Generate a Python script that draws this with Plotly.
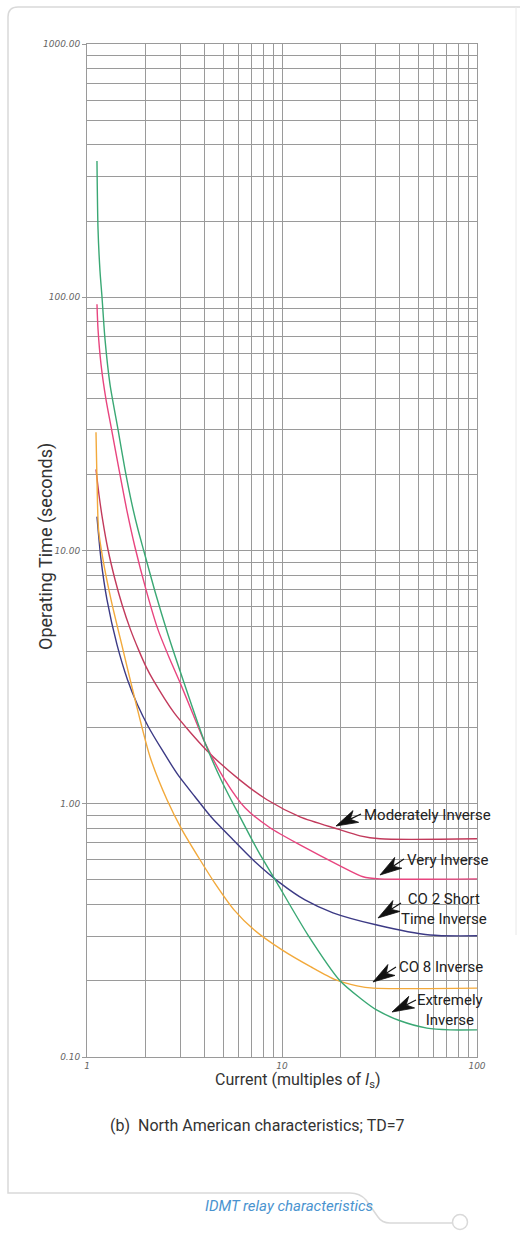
import plotly.graph_objects as go
import math

# ---------------- data ----------------
ei_x = [1.125, 1.139, 1.166, 1.194, 1.237, 1.312, 1.442, 1.566, 1.701, 1.826, 1.960, 2.232, 2.602, 3.107,
        4.028, 4.924, 6.090, 7.533, 9.428, 13.59, 19.84, 25.12, 30.70, 40.3, 55.4, 72.7, 100]
ei_y = [345, 186, 126.7, 100, 68.2, 45.3, 30.1, 20.9, 15.2, 12.1, 9.91, 6.89, 4.66, 3.09,
        1.74, 1.222, 0.888, 0.652, 0.487, 0.303, 0.200, 0.171, 0.153, 0.139, 0.130, 0.128, 0.128]

vi_x = [1.125, 1.139, 1.180, 1.251, 1.343, 1.459, 1.604, 1.763, 2.007, 2.312, 2.665, 2.999, 3.455, 4.028,
        5.102, 6.462, 8.679, 12.37, 19.84, 26.03, 31.8, 100]
vi_y = [93.8, 74.7, 54.3, 39.5, 29.5, 20.9, 14.3, 10.3, 7.01, 4.87, 3.71, 3.01, 2.31, 1.74,
        1.24, 0.964, 0.804, 0.688, 0.569, 0.515, 0.505, 0.505]

mi_x = [1.112, 1.152, 1.201, 1.281, 1.392, 1.512, 1.671, 1.837, 2.007, 2.180, 2.794, 4.125, 6.090, 8.377,
        12.37, 19.15, 25.12, 31.8, 100]
mi_y = [20.9, 16.6, 13.3, 10.09, 7.68, 6.12, 4.87, 4.06, 3.48, 3.09, 2.29, 1.62, 1.24, 1.037,
        0.888, 0.796, 0.747, 0.727, 0.727]

co2_x = [1.125, 1.180, 1.266, 1.425, 1.613, 1.815, 2.067, 2.424, 2.929, 3.579, 4.323, 5.608, 7.270, 9.766,
         13.12, 18.26, 30.70, 57.41, 100]
co2_y = [13.6, 9.21, 6.40, 4.25, 3.09, 2.46, 2.01, 1.634, 1.30, 1.066, 0.888, 0.721, 0.590, 0.487,
         0.417, 0.371, 0.332, 0.303, 0.301]

co8_x = [1.112, 1.125, 1.146, 1.208, 1.328, 1.529, 1.763, 2.104, 2.572, 3.071, 3.797, 4.587, 5.674, 7.186,
         10.0, 14.08, 18.92, 24.24, 29.29, 100]
co8_y = [29.3, 19.1, 12.1, 9.21, 6.40, 4.06, 2.58, 1.534, 1.037, 0.789, 0.601, 0.478, 0.381, 0.318,
         0.265, 0.227, 0.2015, 0.191, 0.187, 0.187]

series_names = ["Moderately Inverse", "Very Inverse", "CO 2 Short Time Inverse", "CO 8 Inverse", "Extremely Inverse"]
series_x = [mi_x, vi_x, co2_x, co8_x, ei_x]
series_y = [mi_y, vi_y, co2_y, co8_y, ei_y]
series_colors = ["#c23a5c", "#e8457f", "#3c3a85", "#f2a93b", "#3aa874"]

x_ticks = [1, 10, 100]
x_ticktext = ["1", "10", "100"]
y_ticks = [0.1, 1, 10, 100, 1000]
y_ticktext = ["0.10", "1.00", "10.00", "100.00", "1000.00"]

# ---------------- layout geometry ----------------
W, H = 520, 1236
L, R, T, B = 87, 43, 44, 179
PW = W - L - R
PH = H - T - B

def pxx(xp):
    return (xp - L) / PW

def pyy(yp):
    return (H - B - yp) / PH

FONT = "Roboto, 'Liberation Sans', sans-serif"
GRID = "#9a9a9a"

fig = go.Figure()
for name, xs, ys, col in zip(series_names, series_x, series_y, series_colors):
    fig.add_trace(go.Scatter(x=xs, y=ys, mode="lines", name=name,
                             line=dict(color=col, width=1.4, shape="spline", smoothing=0.7),
                             hoverinfo="skip"))

minor_x = [m * d for d in (1, 10) for m in range(2, 10)]
minor_y = [m * d for d in (0.1, 1, 10, 100) for m in range(2, 10)]

fig.update_layout(
    width=W, height=H,
    margin=dict(l=L, r=R, t=T, b=B, pad=0),
    paper_bgcolor="white", plot_bgcolor="white",
    showlegend=False,
    xaxis=dict(type="log", range=[0, 2], tickvals=x_ticks, ticktext=x_ticktext,
               showgrid=True, gridcolor=GRID, gridwidth=1,
               minor=dict(tickvals=minor_x, showgrid=True, gridcolor=GRID, gridwidth=1, ticks=""),
               showline=True, linecolor=GRID, linewidth=1, mirror=True, zeroline=False,
               ticks="", tickfont=dict(family="DejaVu Sans", size=9, color="#666", style="italic")),
    yaxis=dict(type="log", range=[-1, 3], tickvals=y_ticks, ticktext=y_ticktext,
               showgrid=True, gridcolor=GRID, gridwidth=1,
               minor=dict(tickvals=minor_y, showgrid=True, gridcolor=GRID, gridwidth=1, ticks=""),
               showline=True, linecolor=GRID, linewidth=1, mirror=True, zeroline=False,
               ticks="outside", ticklen=4, tickcolor=GRID,
               tickfont=dict(family="DejaVu Sans", size=9, color="#666", style="italic")),
)

ann = []
ann.append(dict(text="Operating Time (seconds)", xref="paper", yref="paper", x=pxx(33), y=pyy(547),
                textangle=-90, showarrow=False, font=dict(family=FONT, size=18, color="#333")))
ann.append(dict(text="Current (multiples of <i>I</i><sub>s</sub>)", xref="paper", yref="paper",
                x=pxx(298), y=pyy(1093), showarrow=False, font=dict(family=FONT, size=16, color="#333")))
ann.append(dict(text="(b)  North American characteristics; TD=7", xref="paper", yref="paper",
                x=pxx(257), y=pyy(1137), showarrow=False, font=dict(family=FONT, size=16, color="#333")))
ann.append(dict(text="IDMT relay characteristics", xref="paper", yref="paper",
                x=pxx(203), y=pyy(1217), showarrow=False,
                font=dict(family=FONT, size=15, color="#4a93cf", style="italic")))

labels = [
    ("Moderately Inverse", 362, 815, "left"),
    ("Very Inverse", 405, 860, "left"),
    ("CO 2 Short<br>Time Inverse", 444, 909, "center"),
    ("CO 8 Inverse", 397, 967, "left"),
    ("Extremely<br>Inverse", 450, 1010, "center"),
]
for txt, xp, yp, anc in labels:
    ann.append(dict(text=txt, xref="paper", yref="paper", x=pxx(xp), y=pyy(yp),
                    xanchor=anc, yanchor="middle", align="center", showarrow=False,
                    font=dict(family=FONT, size=15, color="#222")))
fig.update_layout(annotations=ann)

# arrow darts drawn as shapes: tip pixel, tail pixel
arrows = [((336, 826), (361, 814)), ((380, 875), (404, 859)), ((378, 918), (401, 903)),
          ((373, 982), (396, 967)), ((392, 1012), (416, 1000))]
for (tx, ty), (sx, sy) in arrows:
    dx, dy = sx - tx, sy - ty
    ln = math.hypot(dx, dy)
    ux, uy = dx / ln, dy / ln
    nx, ny = -uy, ux
    Lh, w = 22, 6.5
    p1 = (tx, ty)
    p2 = (tx + ux * Lh + nx * w, ty + uy * Lh + ny * w)
    p3 = (tx + ux * Lh * 0.72, ty + uy * Lh * 0.72)
    p4 = (tx + ux * Lh - nx * w, ty + uy * Lh - ny * w)
    path = "M " + " L ".join(f"{pxx(a):.5f},{pyy(b):.5f}" for a, b in (p1, p2, p3, p4)) + " Z"
    fig.add_shape(type="path", xref="paper", yref="paper", path=path,
                  fillcolor="#111", line=dict(color="#111", width=0.8))
    fig.add_shape(type="line", xref="paper", yref="paper", x0=pxx(p3[0]), y0=pyy(p3[1]),
                  x1=pxx(sx), y1=pyy(sy), line=dict(color="#111", width=1.2))

# decorative frame
FR = "#d9d9d9"
def P(xp, yp):
    return f"{pxx(xp):.5f},{pyy(yp):.5f}"
frame_path = ("M " + P(520, 7) + " L " + P(18, 7) + " Q " + P(8, 7) + " " + P(8, 17) +
              " L " + P(8, 1193) + " L " + P(350, 1193) + " Q " + P(360, 1193) + " " + P(366, 1200) +
              " L " + P(378, 1217) + " Q " + P(382, 1223) + " " + P(390, 1223) + " L " + P(452, 1223))
fig.add_shape(type="path", xref="paper", yref="paper", path=frame_path,
              line=dict(color=FR, width=1.5), layer="below")
fig.add_shape(type="line", xref="paper", yref="paper", x0=pxx(516), x1=pxx(516), y0=pyy(7), y1=pyy(935),
              line=dict(color="#e8e8e8", width=1), layer="below")
fig.add_shape(type="circle", xref="paper", yref="paper", x0=pxx(452.5), x1=pxx(467.5),
              y0=pyy(1229.5), y1=pyy(1214.5), line=dict(color=FR, width=1.5))

fig.write_html("out.html", config={"displayModeBar": False},
               post_script="document.body.style.margin='0';")
